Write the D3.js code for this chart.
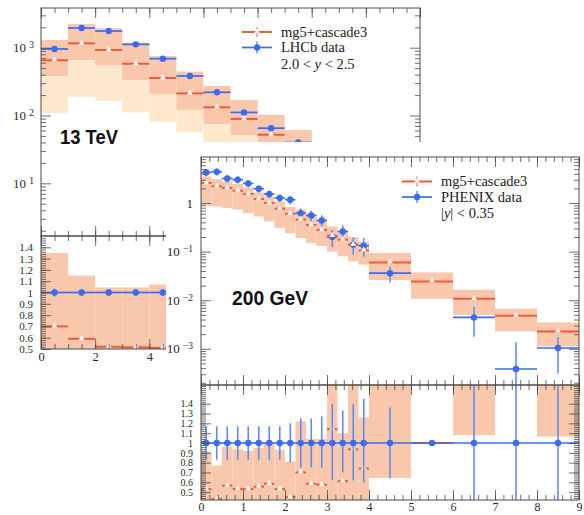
<!DOCTYPE html>
<html lang="en">
<head>
<meta charset="UTF-8"/>
<title>mg5+cascade3 vs LHCb 13 TeV and PHENIX 200 GeV</title>
<script src="https://d3js.org/d3.v7.min.js"></script>
<style>
    body { margin: 0; background: #fff; }
    svg { display: block; }
</style>
</head>
<body>
<script>
    // ---- LHCb 13 TeV, 2.0 < y < 2.5 ----
    var lhcbEdges   = [0, 1, 2, 3, 4, 5, 6, 7, 8, 9, 10];
    var lhcbData    = [957, 1950, 1760, 1120, 689, 383, 220, 111, 65, 40];
    var lhcbErr     = [0.035, 0.03, 0.03, 0.03, 0.03, 0.035, 0.04, 0.04, 0.05, 0.06];
    var lhcbMc      = [652, 1160, 925, 580, 357, 212, 132, 89, 52, 33];
    var lhcbBandHi  = [1300, 2240, 1930, 1185, 755, 443, 272, 169, 102, 61];
    var lhcbBandMid = [383, 658, 543, 334, 206, 121, 75, 51.5, 30, 20];
    var lhcbBandLo  = [109, 189, 165, 111, 81, 56.5, 38, 27, 18, 12];
    var lhcbRatioMc = [0.70, 0.59, 0.52, 0.515, 0.51, 0.55, 0.6, 0.8, 0.8, 0.82];
    var lhcbRatioHi = [1.35, 1.15, 1.045, 1.045, 1.07, 1.16, 1.24, 1.5, 1.57, 1.5];
    var lhcbRatioLo = [0.40, 0.34, 0.31, 0.30, 0.30, 0.32, 0.34, 0.46, 0.46, 0.5];

    // ---- PHENIX 200 GeV, |y| < 0.35 ----
    var phxEdges   = [0, 0.25, 0.5, 0.75, 1, 1.25, 1.5, 1.75, 2, 2.25, 2.5, 2.75, 3, 3.25, 3.5, 3.75, 4, 5, 6, 7, 8, 9];
    var phxData    = [4.26, 4.4, 3.2, 3.02, 2.53, 1.97, 1.53, 1.27, 1.17, 0.62, 0.556, 0.438, 0.2, 0.26, 0.139, 0.132,
                      0.036, null, 0.00443, 0.000384, 0.00104];
    var phxErrUp   = [0.17, 0.17, 0.17, 0.17, 0.17, 0.17, 0.17, 0.17, 0.2, 0.25, 0.25, 0.27, 0.4, 0.33, 0.4, 0.45,
                      0.36, 0, 0.66, 2.54, 0.68];
    var phxErrDn   = [0.17, 0.17, 0.17, 0.17, 0.17, 0.17, 0.17, 0.17, 0.2, 0.25, 0.25, 0.25, 0.38, 0.3, 0.38, 0.4,
                      0.36, 0, 0.6, 0.99, 0.7];
    var phxMc      = [2.58, 2.2, 2.04, 1.79, 1.53, 1.21, 1.0, 0.763, 0.6, 0.453, 0.352, 0.278, 0.212, 0.176, 0.139, 0.106,
                      0.06, 0.0244, 0.0107, 0.0048, 0.00228];
    var phxBandHi  = [3.5, 3.1, 2.8, 2.46, 2.09, 1.65, 1.37, 1.08, 0.83, 0.73, 0.57, 0.45, 0.33, 0.26, 0.2, 0.16,
                      0.0936, 0.0373, 0.0164, 0.00668, 0.00349];
    var phxBandLo  = [0.88, 0.85, 0.79, 0.73, 0.62, 0.53, 0.42, 0.31, 0.24, 0.19, 0.15, 0.13, 0.10, 0.08, 0.063, 0.054,
                      0.026, 0.0107, 0.005, 0.00228, 0.00112];
    var phxRatioMc = [0.53, 0.43, 0.565, 0.53, 0.53, 0.555, 0.585, 0.53, 0.45, 0.70, 0.585, 0.575, 1.14, 0.61, 0.935, 0.74,
                      1.7, 1.0, 2.4, 12, 2.2];
    var phxRatioHi = [0.91, 0.77, 0.96, 0.935, 0.92, 0.95, 0.99, 0.93, 0.81, 1.22, 1.04, 1.04, 1.7, 1.1, 1.7, 1.26,
                      2.6, null, 3.7, 17, 3.4];
    var phxRatioLo = [0.2, 0.2, 0.2, 0.2, 0.2, 0.2, 0.2, 0.2, 0.2, 0.2, 0.2, 0.2, 0.2, 0.2, 0.2, 0.2,
                      0.645, null, 1.08, 6, 1.065];

    // tick values
    var topXMajor = [0, 2, 4, 6, 8, 10, 12, 14];
    var botXMajor = [0, 1, 2, 3, 4, 5, 6, 7, 8, 9];
    var ratioMajor = [0.5, 0.6, 0.7, 0.8, 0.9, 1, 1.1, 1.2, 1.3, 1.4];

    var W = 584, H = 515;
    var RED = "#ee5a3b", BLUE = "#3b6cf0", BLUE_BAR = "#628cf4";
    var SALMON = "#f9c7ab", PEACH = "#fee8cd", FRAME = "#4a4a4a";
    var FONT = "'Liberation Serif', 'Times New Roman', serif";

    var svg = d3.select("body").append("svg").attr("width", W).attr("height", H);
    svg.append("rect").attr("width", W).attr("height", H).attr("fill", "white");

    function logMinors(lo, hi) {
        var out = [];
        for (var e = -6; e < 6; e++) {
            for (var k = 2; k <= 9; k++) {
                var v = k * Math.pow(10, e);
                if (v > lo && v < hi) out.push(v);
            }
        }
        return out;
    }

    function fmtPow(v) {
        if (Math.abs(v - 1) < 1e-9) return "1";
        var e = Math.round(Math.log10(v));
        return "10^" + (e < 0 ? "\u2212" + (-e) : e);
    }

    function supify(sel) {
        sel.selectAll("text").each(function () {
            var t = d3.select(this), s = t.text();
            if (s.indexOf("^") < 0) return;
            var p = s.split("^");
            t.text(p[0] + " ");
            t.append("tspan").attr("dy", "-0.45em").attr("font-size", "9.5px").text(p[1]);
        });
    }

    function ax(g, fn, scale, vals, size, tx, ty, fmt, pad, fs) {
        var a = fn(scale).tickValues(vals).tickSize(size).tickPadding(pad || 4)
            .tickFormat(fmt || function () { return ""; });
        var s = g.append("g").attr("transform", "translate(" + tx + "," + ty + ")").call(a);
        s.select(".domain").remove();
        s.selectAll("line").attr("stroke", FRAME).attr("stroke-width", 0.8);
        s.attr("font-family", FONT).attr("font-size", fs || 13);
        s.selectAll("text").attr("fill", "#2a2a2a");
        return s;
    }

    function frame(g, x, y, o) {
        var xa = x.range(), ya = y.range();
        ax(g, d3.axisLeft, y, o.yMin, -5, xa[0], 0);
        ax(g, d3.axisRight, y, o.yMin, -5, xa[1], 0);
        supify(ax(g, d3.axisLeft, y, o.yMaj, -10, xa[0], 0, o.yFmt, o.yPad, o.yFs));
        ax(g, d3.axisRight, y, o.yMaj, -10, xa[1], 0);
        ax(g, d3.axisTop, x, o.xMin, -5, 0, ya[1]);
        ax(g, d3.axisTop, x, o.xMaj, -10, 0, ya[1]);
        ax(g, d3.axisBottom, x, o.xMin, -5, 0, ya[0]);
        ax(g, d3.axisBottom, x, o.xMaj, -10, 0, ya[0], o.xFmt, o.xPad, o.xFs);
        g.append("rect")
            .attr("x", xa[0]).attr("y", ya[1])
            .attr("width", xa[1] - xa[0]).attr("height", ya[0] - ya[1])
            .attr("fill", "none").attr("stroke", FRAME).attr("stroke-width", 1);
    }

    function clipFor(id, x, y) {
        var xa = x.range(), ya = y.range();
        svg.append("clipPath").attr("id", id).append("rect")
            .attr("x", xa[0]).attr("y", ya[1])
            .attr("width", xa[1] - xa[0]).attr("height", ya[0] - ya[1]);
        return svg.append("g").attr("clip-path", "url(#" + id + ")");
    }

    function bands(g, x, y, edges, hi, lo, color) {
        var idx = d3.range(hi.length).filter(function (i) { return hi[i] != null; });
        g.selectAll(null).data(idx).enter().append("rect")
            .attr("x", function (i) { return x(edges[i]); })
            .attr("width", function (i) { return x(edges[i + 1]) - x(edges[i]); })
            .attr("y", function (i) { return y(hi[i]); })
            .attr("height", function (i) { return y(lo[i]) - y(hi[i]); })
            .attr("fill", color);
    }

    function mcLine(g, x, y, edges, vals) {
        var idx = d3.range(vals.length);
        g.selectAll(null).data(idx).enter().append("line")
            .attr("x1", function (i) { return x(edges[i]); })
            .attr("x2", function (i) { return x(edges[i + 1]); })
            .attr("y1", function (i) { return y(vals[i]); })
            .attr("y2", function (i) { return y(vals[i]); })
            .attr("stroke", RED).attr("stroke-width", 2);
        g.selectAll(null).data(idx).enter().append("path")
            .attr("d", d3.symbol(d3.symbolTriangle, 14))
            .attr("transform", function (i) {
                return "translate(" + x((edges[i] + edges[i + 1]) / 2) + "," + (y(vals[i]) - 0.5) + ")";
            })
            .attr("fill", "white");
    }

    function dataPts(g, x, y, edges, vals, up, dn) {
        var idx = d3.range(vals.length).filter(function (i) { return vals[i] != null; });
        var cx = function (i) { return x((edges[i] + edges[i + 1]) / 2); };
        g.selectAll(null).data(idx).enter().append("line")
            .attr("x1", cx).attr("x2", cx)
            .attr("y1", function (i) { return y(vals[i] * (1 + up[i])); })
            .attr("y2", function (i) { return y(vals[i] * (1 - dn[i])); })
            .attr("stroke", BLUE_BAR).attr("stroke-width", 1.6);
        g.selectAll(null).data(idx).enter().append("line")
            .attr("x1", function (i) { return x(edges[i]); })
            .attr("x2", function (i) { return x(edges[i + 1]); })
            .attr("y1", function (i) { return y(vals[i]); })
            .attr("y2", function (i) { return y(vals[i]); })
            .attr("stroke", BLUE).attr("stroke-width", 1.7);
        g.selectAll(null).data(idx).enter().append("circle")
            .attr("cx", cx).attr("cy", function (i) { return y(vals[i]); })
            .attr("r", 3.2).attr("fill", BLUE);
    }

    function legend(x0, yRow, labels) {
        var g = svg.append("g");
        var xm = x0 + 15;
        g.append("line").attr("x1", x0).attr("x2", x0 + 30).attr("y1", yRow).attr("y2", yRow)
            .attr("stroke", RED).attr("stroke-width", 2);
        g.append("line").attr("x1", xm).attr("x2", xm).attr("y1", yRow - 5).attr("y2", yRow + 5)
            .attr("stroke", RED).attr("stroke-width", 1);
        g.append("path").attr("d", d3.symbol(d3.symbolTriangle, 14))
            .attr("transform", "translate(" + xm + "," + (yRow - 0.5) + ")").attr("fill", "white");
        var yb = yRow + 15.5;
        g.append("line").attr("x1", x0).attr("x2", x0 + 30).attr("y1", yb).attr("y2", yb)
            .attr("stroke", BLUE).attr("stroke-width", 1.7);
        g.append("line").attr("x1", xm).attr("x2", xm).attr("y1", yb - 6).attr("y2", yb + 6)
            .attr("stroke", BLUE_BAR).attr("stroke-width", 1.4);
        g.append("circle").attr("cx", xm).attr("cy", yb).attr("r", 3.2).attr("fill", BLUE);
        var t = g.append("g").attr("font-family", FONT).attr("font-size", 14.5).attr("fill", "#222");
        t.append("text").attr("x", x0 + 39).attr("y", yRow + 4.5).text(labels[0]);
        t.append("text").attr("x", x0 + 39).attr("y", yb + 4.5).text(labels[1]);
        var r = t.append("text").attr("x", x0 + 39).attr("y", yb + 21);
        labels[2].forEach(function (p) {
            r.append("tspan").attr("font-style", p.it ? "italic" : "normal").text(p.s);
        });
    }

    // ================= 13 TeV (LHCb) =================
    var xT = d3.scaleLinear().domain([0, 14]).range([41, 420]);
    var yT = d3.scaleLog().domain([1.67, 3850]).range([236, 8]);
    var rT = d3.scaleLinear().domain([0.5, 1.5]).range([349, 236]);

    var gT = clipFor("clipTop", xT, yT);
    bands(gT, xT, yT, lhcbEdges, lhcbBandMid, lhcbBandLo, PEACH);
    bands(gT, xT, yT, lhcbEdges, lhcbBandHi, lhcbBandMid, SALMON);
    dataPts(gT, xT, yT, lhcbEdges, lhcbData, lhcbErr, lhcbErr);
    mcLine(gT, xT, yT, lhcbEdges, lhcbMc);

    var gTR = clipFor("clipTopR", xT, rT);
    bands(gTR, xT, rT, lhcbEdges, lhcbRatioHi, lhcbRatioLo, SALMON);
    mcLine(gTR, xT, rT, lhcbEdges, lhcbRatioMc);
    dataPts(gTR, xT, rT, lhcbEdges, lhcbData.map(function () { return 1; }), lhcbErr, lhcbErr);

    var fT = svg.append("g");
    frame(fT, xT, yT, {xMaj: topXMajor, xMin: d3.range(0, 14.01, 0.5),
        yMaj: [10, 100, 1000], yMin: logMinors(1.67, 3850), yFmt: fmtPow, yPad: 7});
    frame(fT, xT, rT, {xMaj: topXMajor, xMin: d3.range(0, 14.01, 0.5),
        yMaj: ratioMajor, yMin: d3.range(0.5, 1.5, 0.02), yFmt: d3.format(".1~f"), yPad: 8, yFs: 11,
        xFmt: d3.format("d"), xPad: 3, xFs: 12.5});

    legend(242, 32, ["mg5+cascade3", "LHCb data", [{s: "2.0 < "}, {s: "y", it: true}, {s: " < 2.5"}]]);

    svg.append("text").attr("x", 60).attr("y", 144)
        .attr("font-family", "'Liberation Sans', Arial, sans-serif").attr("font-weight", "bold")
        .attr("font-size", 20).attr("textLength", 58).attr("lengthAdjust", "spacingAndGlyphs")
        .attr("fill", "#111").text("13 TeV");

    // the 200 GeV figure is pasted over the lower right part
    svg.append("rect").attr("x", 166).attr("y", 142).attr("width", W - 166).attr("height", H - 142).attr("fill", "white");

    // ================= 200 GeV (PHENIX) =================
    var xB = d3.scaleLinear().domain([0, 9]).range([201, 579]);
    var yB = d3.scaleLog().domain([1.8e-4, 8.85]).range([385, 157]);
    var rB = d3.scaleLinear().domain([0.42, 1.59]).range([500, 385]);

    var gB = clipFor("clipBot", xB, yB);
    bands(gB, xB, yB, phxEdges, phxBandHi, phxBandLo, SALMON);
    dataPts(gB, xB, yB, phxEdges, phxData, phxErrUp, phxErrDn);
    mcLine(gB, xB, yB, phxEdges, phxMc);

    var gBR = clipFor("clipBotR", xB, rB);
    bands(gBR, xB, rB, phxEdges, phxRatioHi, phxRatioLo, SALMON);
    mcLine(gBR, xB, rB, phxEdges, phxRatioMc);
    dataPts(gBR, xB, rB, phxEdges, phxMc.map(function () { return 1; }), phxErrUp, phxErrDn);

    var fB = svg.append("g");
    frame(fB, xB, yB, {xMaj: botXMajor, xMin: d3.range(0, 9.01, 0.2),
        yMaj: [0.001, 0.01, 0.1, 1], yMin: logMinors(1.8e-4, 8.85), yFmt: fmtPow, yPad: 8});
    frame(fB, xB, rB, {xMaj: botXMajor, xMin: d3.range(0, 9.01, 0.2),
        yMaj: ratioMajor, yMin: d3.range(0.44, 1.59, 0.02), yFmt: d3.format(".1~f"), yPad: 8, yFs: 10,
        xFmt: d3.format("d"), xPad: 2, xFs: 12});

    legend(402, 181.5, ["mg5+cascade3", "PHENIX data", [{s: "|"}, {s: "y", it: true}, {s: "| < 0.35"}]]);

    svg.append("text").attr("x", 232).attr("y", 305)
        .attr("font-family", "'Liberation Sans', Arial, sans-serif").attr("font-weight", "bold")
        .attr("font-size", 20).attr("textLength", 76).attr("lengthAdjust", "spacingAndGlyphs")
        .attr("fill", "#111").text("200 GeV");
</script>
</body>
</html>
